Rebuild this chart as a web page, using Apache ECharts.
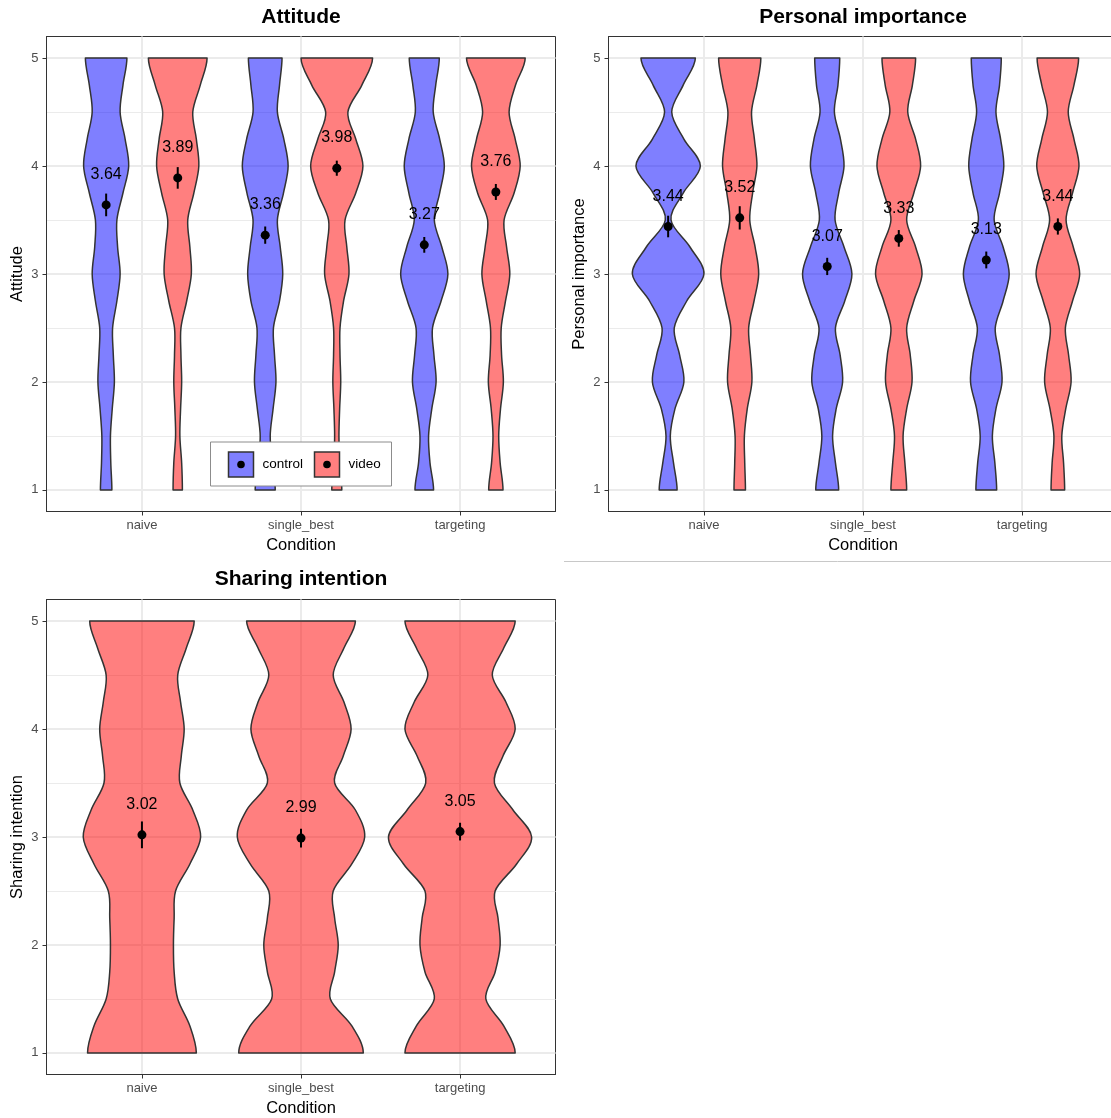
<!DOCTYPE html>
<html>
<head>
<meta charset="utf-8">
<script src="https://cdn.jsdelivr.net/npm/echarts@6/dist/echarts.min.js"></script>
<style>
  html, body { margin: 0; padding: 0; background: #ffffff; }
  #chart { width: 1111px; height: 1118px; }
</style>
</head>
<body>
<div id="chart"></div>
<script>
// ---- data -------------------------------------------------------------
const conditions = ['naive', 'single_best', 'targeting'];
const groups = ['control', 'video'];
const xTicks = [1, 2, 3];
const yTicks = [1, 2, 3, 4, 5];
const yMinorTicks = [1.5, 2.5, 3.5, 4.5];
// response levels at which each violin's width is given
const densityLevels = [1, 1.25, 1.5, 1.75, 2, 2.25, 2.5, 2.75, 3, 3.25, 3.5, 3.75, 4, 4.25, 4.5, 4.75, 5];

// Attitude
const attitudeMeanControl = [3.64, 3.36, 3.27];
const attitudeSeControl = [0.105, 0.08, 0.073];
const attitudeMeanVideo = [3.89, 3.98, 3.76];
const attitudeSeVideo = [0.10, 0.07, 0.074];
// relative violin widths (1 = widest violin of the panel), rows follow conditions
const attitudeDensityControl = [
  [0.16, 0.13, 0.12, 0.17, 0.23, 0.20, 0.18, 0.30, 0.39, 0.32, 0.30, 0.47, 0.63, 0.53, 0.39, 0.47, 0.58],
  [0.28, 0.20, 0.14, 0.22, 0.30, 0.26, 0.23, 0.40, 0.49, 0.42, 0.34, 0.51, 0.64, 0.52, 0.34, 0.40, 0.47],
  [0.26, 0.16, 0.12, 0.21, 0.33, 0.27, 0.23, 0.47, 0.66, 0.49, 0.28, 0.43, 0.56, 0.43, 0.25, 0.32, 0.42]
];
const attitudeDensityVideo = [
  [0.13, 0.11, 0.06, 0.08, 0.11, 0.09, 0.09, 0.25, 0.38, 0.34, 0.28, 0.45, 0.59, 0.52, 0.42, 0.63, 0.82],
  [0.14, 0.08, 0.06, 0.08, 0.11, 0.09, 0.09, 0.19, 0.34, 0.28, 0.23, 0.53, 0.73, 0.53, 0.31, 0.70, 1.00],
  [0.20, 0.12, 0.08, 0.13, 0.21, 0.16, 0.15, 0.27, 0.39, 0.30, 0.23, 0.51, 0.68, 0.54, 0.37, 0.55, 0.82]
];

// Personal importance
const importanceMeanControl = [3.44, 3.07, 3.13];
const importanceSeControl = [0.10, 0.08, 0.078];
const importanceMeanVideo = [3.52, 3.33, 3.44];
const importanceSeVideo = [0.108, 0.077, 0.075];
const importanceDensityControl = [
  [0.25, 0.15, 0.06, 0.19, 0.44, 0.32, 0.17, 0.52, 1.00, 0.61, 0.08, 0.42, 0.90, 0.44, 0.10, 0.42, 0.76],
  [0.32, 0.23, 0.15, 0.25, 0.43, 0.36, 0.23, 0.49, 0.69, 0.47, 0.22, 0.32, 0.47, 0.37, 0.20, 0.30, 0.35],
  [0.29, 0.24, 0.17, 0.27, 0.44, 0.37, 0.25, 0.47, 0.64, 0.47, 0.22, 0.37, 0.49, 0.40, 0.27, 0.37, 0.42]
];
const importanceDensityVideo = [
  [0.16, 0.14, 0.13, 0.21, 0.34, 0.30, 0.25, 0.40, 0.53, 0.43, 0.28, 0.36, 0.48, 0.41, 0.33, 0.48, 0.59],
  [0.22, 0.17, 0.12, 0.22, 0.37, 0.32, 0.22, 0.42, 0.65, 0.47, 0.22, 0.42, 0.61, 0.47, 0.25, 0.38, 0.47],
  [0.19, 0.16, 0.11, 0.22, 0.37, 0.30, 0.21, 0.41, 0.61, 0.43, 0.23, 0.41, 0.59, 0.45, 0.29, 0.45, 0.58]
];

// Sharing intention (video only)
const sharingMeanVideo = [3.02, 2.99, 3.05];
const sharingSeVideo = [0.124, 0.087, 0.082];
const sharingDensityVideo = [
  [0.76, 0.67, 0.50, 0.45, 0.44, 0.45, 0.47, 0.67, 0.82, 0.71, 0.53, 0.55, 0.59, 0.54, 0.50, 0.62, 0.73],
  [0.87, 0.71, 0.41, 0.47, 0.52, 0.47, 0.45, 0.71, 0.89, 0.76, 0.47, 0.59, 0.70, 0.60, 0.45, 0.60, 0.76],
  [0.77, 0.61, 0.36, 0.49, 0.56, 0.53, 0.49, 0.79, 1.00, 0.74, 0.48, 0.60, 0.77, 0.64, 0.45, 0.61, 0.77]
];

// ---- styling ------------------------------------------------------------
const FONT = '"Liberation Sans", Arial, Helvetica, sans-serif';
const fills = { control: 'rgba(0, 0, 255, 0.5)', video: 'rgba(255, 0, 0, 0.5)' };
const OUTLINE = '#333333';
const GRID_MAJOR = '#ebebeb';
const DODGE = 0.225;        // offset of each dodged violin from its category
const HALF_DODGED = 0.225;  // widest half-width of a dodged violin (x units)
const HALF_SINGLE = 0.45;   // widest half-width of an undodged violin
const LABEL_LIFT = 0.28;    // mean label sits this far above its point

// smooth outline through points (Catmull-Rom -> cubic Bezier); ends are
// mirrored so the outline meets the flat caps vertically
function smoothSegments(pts) {
  const n = pts.length;
  const ext = [
    [pts[1][0], 2 * pts[0][1] - pts[1][1]],
    ...pts,
    [pts[n - 2][0], 2 * pts[n - 1][1] - pts[n - 2][1]]
  ];
  let d = '';
  for (let i = 0; i < n - 1; i++) {
    const p0 = ext[i], p1 = ext[i + 1], p2 = ext[i + 2], p3 = ext[i + 3];
    const c1 = [p1[0] + (p2[0] - p0[0]) / 6, p1[1] + (p2[1] - p0[1]) / 6];
    const c2 = [p2[0] - (p3[0] - p1[0]) / 6, p2[1] - (p3[1] - p1[1]) / 6];
    d += ' C' + c1[0].toFixed(2) + ',' + c1[1].toFixed(2) + ' ' +
         c2[0].toFixed(2) + ',' + c2[1].toFixed(2) + ' ' +
         p2[0].toFixed(2) + ',' + p2[1].toFixed(2);
  }
  return d;
}

function violinSeries(gridIndex, densities, offset, maxHalf, fill) {
  return {
    type: 'custom',
    xAxisIndex: gridIndex,
    yAxisIndex: gridIndex * 2,
    silent: true,
    z: 2,
    data: xTicks.map(x => [x + offset, 3]),
    encode: { x: 0, y: 1 },
    renderItem: function (params, api) {
      const xc = api.value(0);
      const dens = densities[params.dataIndex];
      const right = densityLevels.map((y, k) => api.coord([xc + dens[k] * maxHalf, y]));
      const left = densityLevels.map((y, k) => api.coord([xc - dens[k] * maxHalf, y])).reverse();
      let d = 'M' + right[0][0].toFixed(2) + ',' + right[0][1].toFixed(2);
      d += smoothSegments(right);
      d += ' L' + left[0][0].toFixed(2) + ',' + left[0][1].toFixed(2);
      d += smoothSegments(left);
      d += ' Z';
      return {
        type: 'path',
        shape: { pathData: d },
        style: { fill: fill, stroke: OUTLINE, lineWidth: 1.5, lineJoin: 'round' }
      };
    }
  };
}

function meanSeries(gridIndex, means, ses, offset) {
  return {
    type: 'custom',
    xAxisIndex: gridIndex,
    yAxisIndex: gridIndex * 2,
    silent: true,
    z: 3,
    data: means.map((m, i) => [xTicks[i] + offset, m, ses[i]]),
    encode: { x: 0, y: 1 },
    renderItem: function (params, api) {
      const x = api.value(0), m = api.value(1), se = api.value(2);
      const lo = api.coord([x, m - se]);
      const hi = api.coord([x, m + se]);
      const c = api.coord([x, m]);
      const lab = api.coord([x, m + LABEL_LIFT]);
      return {
        type: 'group',
        children: [
          { type: 'line', shape: { x1: lo[0], y1: lo[1], x2: hi[0], y2: hi[1] },
            style: { stroke: '#000', lineWidth: 2 } },
          { type: 'circle', shape: { cx: c[0], cy: c[1], r: 4.5 }, style: { fill: '#000' } },
          { type: 'text', x: lab[0], y: lab[1],
            style: { text: m.toFixed(2), fill: '#000', fontSize: 16, fontFamily: FONT,
                     align: 'center', verticalAlign: 'middle',
                     textAlign: 'center', textVerticalAlign: 'middle' } }
        ]
      };
    }
  };
}

function xAxisFor(gridIndex) {
  return {
    type: 'value', gridIndex: gridIndex, min: 0.4, max: 3.6,
    name: 'Condition', nameLocation: 'middle', nameGap: 25,
    nameTextStyle: { fontSize: 16.5, color: '#000', fontFamily: FONT },
    axisLine: { show: true, onZero: false, lineStyle: { color: OUTLINE, width: 1 } },
    axisTick: { show: true, length: 4, customValues: xTicks, lineStyle: { color: OUTLINE, width: 1 } },
    axisLabel: { customValues: xTicks, formatter: v => conditions[Math.round(v) - 1],
                 fontSize: 13, color: '#4d4d4d', fontFamily: FONT, margin: 7 },
    splitLine: { show: true, lineStyle: { color: GRID_MAJOR, width: 2 } }
  };
}

function yAxesFor(gridIndex, title) {
  return [
    {
      type: 'value', gridIndex: gridIndex, min: 0.8, max: 5.2, position: 'left',
      name: title, nameLocation: 'middle', nameGap: 21,
      nameTextStyle: { fontSize: 16.5, color: '#000', fontFamily: FONT },
      axisLine: { show: true, onZero: false, lineStyle: { color: OUTLINE, width: 1 } },
      axisTick: { show: true, length: 4, customValues: yTicks, lineStyle: { color: OUTLINE, width: 1 } },
      axisLabel: { customValues: yTicks, fontSize: 13, color: '#4d4d4d', fontFamily: FONT, margin: 8 },
      splitLine: { show: true, lineStyle: { color: GRID_MAJOR, width: 2 } }
    },
    {
      type: 'value', gridIndex: gridIndex, min: 0.8, max: 5.2, position: 'left',
      axisLine: { show: false },
      axisTick: { show: false, customValues: yMinorTicks },
      axisLabel: { show: false, customValues: yMinorTicks },
      splitLine: { show: true, lineStyle: { color: GRID_MAJOR, width: 1 } }
    }
  ];
}

const panelTitles = ['Attitude', 'Personal importance', 'Sharing intention'];

const grids = [
  { left: 46.5, top: 36.5, width: 509, height: 475 },
  { left: 608.5, top: 36.5, width: 509, height: 475 },
  { left: 46.5, top: 599.5, width: 509, height: 475 }
].map(g => Object.assign(g, {
  show: true, backgroundColor: '#ffffff', borderColor: OUTLINE, borderWidth: 1,
  containLabel: false, outerBoundsMode: 'none'
}));

const series = [
  violinSeries(0, attitudeDensityControl, -DODGE, HALF_DODGED, fills.control),
  violinSeries(0, attitudeDensityVideo, DODGE, HALF_DODGED, fills.video),
  meanSeries(0, attitudeMeanControl, attitudeSeControl, -DODGE),
  meanSeries(0, attitudeMeanVideo, attitudeSeVideo, DODGE),

  violinSeries(1, importanceDensityControl, -DODGE, HALF_DODGED, fills.control),
  violinSeries(1, importanceDensityVideo, DODGE, HALF_DODGED, fills.video),
  meanSeries(1, importanceMeanControl, importanceSeControl, -DODGE),
  meanSeries(1, importanceMeanVideo, importanceSeVideo, DODGE),

  violinSeries(2, sharingDensityVideo, 0, HALF_SINGLE, fills.video),
  meanSeries(2, sharingMeanVideo, sharingSeVideo, 0)
];

// titles, divider and the in-panel legend (drawn above the violins)
const TOP_Z = 100;

function titleText(text, x, y) {
  return {
    type: 'text', x: x, y: y, z: TOP_Z,
    style: { text: text, fill: '#000', fontSize: 21, fontWeight: 'bold', fontFamily: FONT,
             align: 'center', verticalAlign: 'middle', textAlign: 'center', textVerticalAlign: 'middle' }
  };
}

function legendKey(label, fill, x, y) {
  return [
    { type: 'rect', z: TOP_Z + 1, shape: { x: x, y: y, width: 25, height: 25 },
      style: { fill: fill, stroke: OUTLINE, lineWidth: 1.5 } },
    { type: 'circle', z: TOP_Z + 2, shape: { cx: x + 12.5, cy: y + 12.5, r: 3.8 }, style: { fill: '#000' } },
    { type: 'text', z: TOP_Z + 2, x: x + 34, y: y + 12.5,
      style: { text: label, fill: '#000', fontSize: 13.5, fontFamily: FONT,
               align: 'left', verticalAlign: 'middle', textAlign: 'left', textVerticalAlign: 'middle' } }
  ];
}

const graphic = [
  titleText(panelTitles[0], 301, 17),
  titleText(panelTitles[1], 863, 17),
  titleText(panelTitles[2], 301, 579),
  { type: 'line', z: TOP_Z, shape: { x1: 564, y1: 561.5, x2: 1111, y2: 561.5 },
    style: { stroke: '#c8c8c8', lineWidth: 1 } },
  { type: 'rect', z: TOP_Z, shape: { x: 210.5, y: 442, width: 181, height: 44 },
    style: { fill: '#ffffff', stroke: '#8c8c8c', lineWidth: 1 } }
].concat(legendKey(groups[0], fills.control, 228.5, 452))
 .concat(legendKey(groups[1], fills.video, 314.5, 452));

const chart = echarts.init(document.getElementById('chart'), null, { renderer: 'canvas' });
chart.setOption({
  animation: false,
  backgroundColor: '#ffffff',
  textStyle: { fontFamily: FONT },
  grid: grids,
  xAxis: [xAxisFor(0), xAxisFor(1), xAxisFor(2)],
  yAxis: [].concat(yAxesFor(0, panelTitles[0]), yAxesFor(1, panelTitles[1]), yAxesFor(2, panelTitles[2])),
  series: series,
  graphic: graphic
});
</script>
</body>
</html>
